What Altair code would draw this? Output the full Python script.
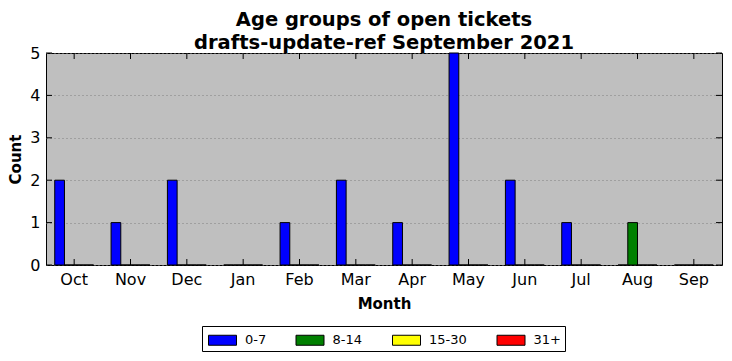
import altair as alt
import pandas as pd

months = ["Oct", "Nov", "Dec", "Jan", "Feb", "Mar", "Apr", "May", "Jun", "Jul", "Aug", "Sep"]
groups = ["0-7", "8-14", "15-30", "31+"]
colors = ["#0000ff", "#008000", "#ffff00", "#ff0000"]
age_0_7 = [2, 1, 2, 0, 1, 2, 1, 5, 2, 1, 0, 0]
age_8_14 = [0, 0, 0, 0, 0, 0, 0, 0, 0, 0, 1, 0]
age_15_30 = [0, 0, 0, 0, 0, 0, 0, 0, 0, 0, 0, 0]
age_31 = [0, 0, 0, 0, 0, 0, 0, 0, 0, 0, 0, 0]
y_ticks = [0, 1, 2, 3, 4, 5]

series = [age_0_7, age_8_14, age_15_30, age_31]
rows = []
for g, vals in zip(groups, series):
    for m, v in zip(months, vals):
        rows.append({"month": m, "group": g, "count": v})
df = pd.DataFrame(rows)
ticks_df = pd.DataFrame({"v": y_ticks})
month_df = pd.DataFrame({"month": months})

W, H = 676, 212
FONT = "DejaVu Sans"

xenc = alt.X("month:N", sort=months,
             scale=alt.Scale(paddingInner=0, paddingOuter=0),
             axis=alt.Axis(title="Month", labelAngle=0, ticks=False, domain=False,
                           labelFontSize=16, labelPadding=6, titleFontSize=15,
                           titleFontWeight="bold", titlePadding=9, labelColor="black",
                           titleColor="black", labelFont=FONT, titleFont=FONT))

bars = alt.Chart(df).mark_bar(stroke="black", strokeWidth=1).encode(
    x=xenc,
    xOffset=alt.XOffset("group:N", sort=groups,
                        scale=alt.Scale(domain=groups, paddingInner=0, paddingOuter=0.9)),
    y=alt.Y("count:Q", scale=alt.Scale(domain=[0, 5], nice=False),
            axis=alt.Axis(title="Count", values=y_ticks, ticks=False, domain=False,
                          grid=True, gridColor="#7f7f7f", gridDash=[1, 3], gridWidth=1,
                          labelFontSize=16, labelPadding=6, titleFontSize=15,
                          titleFontWeight="bold", titlePadding=6, labelColor="black",
                          titleColor="black", labelFont=FONT, titleFont=FONT)),
    color=alt.Color("group:N", sort=groups,
                    scale=alt.Scale(domain=groups, range=colors),
                    legend=alt.Legend(title=None, orient="none", legendX=156, legendY=273,
                                      direction="horizontal", columns=4,
                                      symbolType="M-0.75,-0.5L2.05,-0.5L2.05,0.5L-0.75,0.5Z",
                                      symbolSize=400, symbolStrokeColor="black",
                                      symbolStrokeWidth=1, symbolOpacity=1,
                                      labelFontSize=13, labelFont=FONT, labelColor="black",
                                      columnPadding=26.5, strokeColor="black", fillColor="white",
                                      padding=3.5, labelOffset=18.5)),
)

xb = alt.Chart(month_df).mark_rule(color="black", strokeWidth=1).encode(
    x=alt.X("month:N", sort=months), y=alt.value(H), y2=alt.value(H - 6))
xt = alt.Chart(month_df).mark_rule(color="black", strokeWidth=1).encode(
    x=alt.X("month:N", sort=months), y=alt.value(0), y2=alt.value(6))
yl = alt.Chart(ticks_df).mark_rule(color="black", strokeWidth=1).encode(
    y=alt.Y("v:Q"), x=alt.value(0), x2=alt.value(6))
yr = alt.Chart(ticks_df).mark_rule(color="black", strokeWidth=1).encode(
    y=alt.Y("v:Q"), x=alt.value(W), x2=alt.value(W - 6))

chart = alt.layer(bars, xb, xt, yl, yr).properties(
    width=W, height=H,
    title=alt.Title(["Age groups of open tickets", "drafts-update-ref September 2021"],
                    fontSize=19.5, font=FONT, fontWeight="bold", color="black",
                    anchor="middle", lineHeight=23, offset=-8),
    padding={"left": 38, "top": 45, "right": 2, "bottom": 88},
    autosize=alt.AutoSizeParams(type="none"),
    background="white",
).configure_view(fill="#bfbfbf", stroke="black", strokeWidth=1)

chart.save("out.html", embed_options={"renderer": "svg", "actions": False})
